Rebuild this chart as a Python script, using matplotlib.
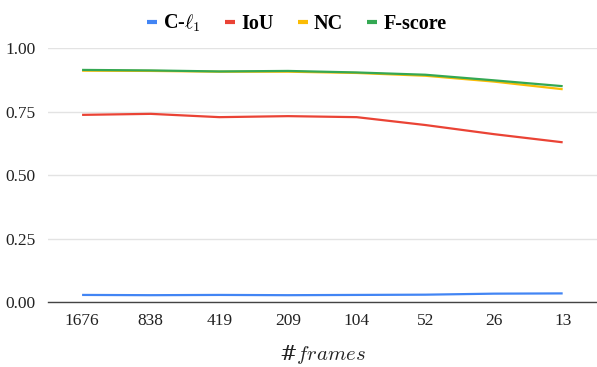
import matplotlib
matplotlib.use("Agg")
import matplotlib.pyplot as plt
from matplotlib.lines import Line2D

categories = ["1676", "838", "419", "209", "104", "52", "26", "13"]
c_l1 = [0.028, 0.027, 0.028, 0.027, 0.028, 0.029, 0.033, 0.034]
iou = [0.737, 0.741, 0.728, 0.732, 0.728, 0.697, 0.661, 0.629]
nc = [0.911, 0.910, 0.907, 0.907, 0.902, 0.891, 0.868, 0.838]
fscore = [0.914, 0.912, 0.908, 0.910, 0.904, 0.895, 0.873, 0.850]
yticks = [0.0, 0.25, 0.5, 0.75, 1.0]

series = [("C-$\\ell_1$", c_l1, "#4285F4"),
          ("IoU", iou, "#EA4335"),
          ("NC", nc, "#FBBC04"),
          ("F-score", fscore, "#34A853")]

plt.rcParams['font.family'] = ['Liberation Serif', 'DejaVu Serif']
plt.rcParams['mathtext.fontset'] = 'cm'

fig = plt.figure(figsize=(5.97, 3.67), dpi=100)
ax = fig.add_axes([0.080, 0.177, 0.920, 0.692])

x = list(range(len(categories)))
for name, vals, col in series:
    ax.plot(x, vals, color=col, lw=1.6, solid_capstyle='butt')

ax.set_xlim(-0.5, len(categories) - 0.5)
ax.set_ylim(0, 1.0)
ax.set_yticks(yticks)
ax.set_yticklabels([f"{v:.2f}" for v in yticks])
ax.set_xticks(x)
ax.set_xticklabels(categories)
ax.tick_params(axis='both', length=0, labelsize=12.5, colors='#222222')
ax.tick_params(axis='x', pad=8)
ax.tick_params(axis='y', pad=9)
ax.grid(axis='y', color='#e3e3e3', lw=1)
ax.set_axisbelow(True)
for s in ['top', 'right', 'left']:
    ax.spines[s].set_visible(False)
ax.spines['bottom'].set_color('#444444')
ax.spines['bottom'].set_linewidth(1)
ax.set_xlabel(r'#$frames$', fontsize=15, labelpad=10, color='#222222',
              family='DejaVu Serif')

handles = [Line2D([0], [0], color=c, lw=3, solid_capstyle='butt') for _, _, c in series]
labels = [n for n, _, _ in series]
fig.legend(handles, labels, loc='upper center', bbox_to_anchor=(0.497, 1.015), ncol=4,
           frameon=False, handlelength=0.5, handletextpad=0.3, columnspacing=1.2,
           prop={'weight': 'bold', 'size': 14.5})

fig.savefig("out.png", dpi=100)
